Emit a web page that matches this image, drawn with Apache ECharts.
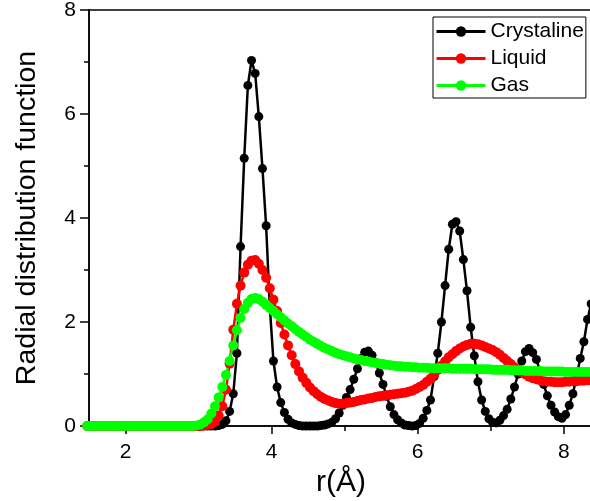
<!DOCTYPE html>
<html><head><meta charset="utf-8">
<script src="https://cdn.jsdelivr.net/npm/echarts@6/dist/echarts.min.js"></script>
<style>html,body{margin:0;padding:0;background:#fff}#c{width:590px;height:501px}</style>
</head><body><div id="c"></div>
<script>
// r in Angstrom
const r = [
1.475,1.525,1.575,1.625,1.675,1.725,1.775,1.825,1.875,1.925,
1.975,2.025,2.075,2.125,2.175,2.225,2.275,2.325,2.375,2.425,
2.475,2.525,2.575,2.625,2.675,2.725,2.775,2.825,2.875,2.925,
2.975,3.025,3.075,3.125,3.175,3.225,3.275,3.325,3.375,3.425,
3.475,3.525,3.575,3.625,3.675,3.725,3.775,3.825,3.875,3.925,
3.975,4.025,4.075,4.125,4.175,4.225,4.275,4.325,4.375,4.425,
4.475,4.525,4.575,4.625,4.675,4.725,4.775,4.825,4.875,4.925,
4.975,5.025,5.075,5.125,5.175,5.225,5.275,5.325,5.375,5.425,
5.475,5.525,5.575,5.625,5.675,5.725,5.775,5.825,5.875,5.925,
5.975,6.025,6.075,6.125,6.175,6.225,6.275,6.325,6.375,6.425,
6.475,6.525,6.575,6.625,6.675,6.725,6.775,6.825,6.875,6.925,
6.975,7.025,7.075,7.125,7.175,7.225,7.275,7.325,7.375,7.425,
7.475,7.525,7.575,7.625,7.675,7.725,7.775,7.825,7.875,7.925,
7.975,8.025,8.075,8.125,8.175,8.225,8.275,8.325,8.375,8.425
];
const crystaline = [
0,0,0,0,0,0,0,0,0,0,
0,0,0,0,0,0,0,0,0,0,
0,0,0,0,0,0,0,0,0,0,
0,0,0,0,0,0,0.01,0.03,0.10,0.28,
0.62,1.40,3.45,5.15,6.55,7.03,6.78,5.95,4.95,3.85,
2.30,1.25,0.75,0.45,0.26,0.13,0.06,0.03,0.01,0,
0,0,0,0,0.01,0.02,0.04,0.07,0.14,0.25,
0.40,0.55,0.70,0.90,1.10,1.30,1.42,1.44,1.36,1.22,
1.02,0.80,0.57,0.37,0.22,0.12,0.06,0.02,0.01,0.00,
0.01,0.05,0.15,0.30,0.50,0.95,1.40,2.00,2.70,3.40,
3.88,3.93,3.75,3.20,2.60,1.90,1.35,0.85,0.50,0.28,
0.14,0.07,0.06,0.11,0.20,0.32,0.52,0.75,1.00,1.25,
1.43,1.49,1.41,1.28,1.05,0.80,0.58,0.40,0.27,0.18,
0.15,0.22,0.40,0.62,0.95,1.30,1.62,2.05,2.35,2.55
];
const liquid = [
0,0,0,0,0,0,0,0,0,0,
0,0,0,0,0,0,0,0,0,0,
0,0,0,0,0,0,0,0,0,0,
0,0,0.01,0.02,0.04,0.08,0.20,0.38,0.70,1.20,
1.85,2.35,2.70,2.95,3.10,3.18,3.19,3.12,3.00,2.85,
2.65,2.43,2.21,1.98,1.76,1.55,1.36,1.19,1.05,0.93,
0.83,0.74,0.67,0.61,0.56,0.52,0.49,0.46,0.44,0.43,
0.43,0.44,0.45,0.46,0.48,0.50,0.51,0.53,0.54,0.56,
0.57,0.58,0.59,0.60,0.61,0.62,0.63,0.64,0.66,0.68,
0.71,0.75,0.79,0.85,0.91,0.99,1.08,1.16,1.24,1.32,
1.38,1.44,1.49,1.53,1.56,1.58,1.58,1.57,1.55,1.52,
1.49,1.46,1.42,1.37,1.31,1.25,1.19,1.13,1.08,1.03,
0.99,0.95,0.92,0.90,0.88,0.86,0.85,0.85,0.84,0.84,
0.84,0.85,0.85,0.86,0.86,0.87,0.87,0.88,0.88,0.88
];
const gas = [
0,0,0,0,0,0,0,0,0,0,
0,0,0,0,0,0,0,0,0,0,
0,0,0,0,0,0,0,0,0,0,
0.01,0.03,0.07,0.13,0.24,0.38,0.55,0.75,0.98,1.25,
1.55,1.84,2.08,2.25,2.37,2.44,2.46,2.44,2.39,2.33,
2.27,2.21,2.15,2.09,2.03,1.97,1.92,1.86,1.81,1.76,
1.71,1.66,1.62,1.58,1.54,1.50,1.47,1.44,1.41,1.38,
1.36,1.34,1.32,1.30,1.28,1.27,1.25,1.24,1.22,1.21,
1.20,1.19,1.18,1.17,1.16,1.15,1.15,1.14,1.14,1.13,
1.13,1.12,1.12,1.12,1.11,1.11,1.11,1.11,1.11,1.11,
1.10,1.10,1.10,1.10,1.10,1.10,1.09,1.09,1.09,1.09,
1.09,1.08,1.08,1.08,1.08,1.08,1.07,1.07,1.07,1.07,
1.06,1.06,1.06,1.06,1.06,1.05,1.05,1.05,1.05,1.05,
1.05,1.04,1.04,1.04,1.04,1.04,1.04,1.04,1.04,1.04
];
const seriesNames = ['Crystaline', 'Liquid', 'Gas'];
const xMajorTicks = [2, 4, 6, 8];
const xMinorTicks = [3, 5, 7];

function pairs(ys) { return r.map(function (x, i) { return [x, ys[i]]; }); }
const FONT = 'Arial, "Liberation Sans", sans-serif';
const chart = echarts.init(document.getElementById('c'), null, { renderer: 'canvas' });
const axisLineStyle = { color: '#000', width: 1.5 };
function lineSeries(name, ys, color, size) {
  return {
    name: name, type: 'line', data: pairs(ys), symbol: 'circle', symbolSize: size,
    showSymbol: true, clip: false, smooth: false,
    lineStyle: { color: color, width: 2.5 }, itemStyle: { color: color },
    emphasis: { disabled: true }
  };
}
chart.setOption({
  animation: false,
  backgroundColor: '#fff',
  grid: { left: 89, top: 10, width: 504, height: 416, outerBoundsMode: 'none', containLabel: false,
          show: true, borderColor: '#000', borderWidth: 1.5, backgroundColor: 'transparent' },
  legend: {
    data: seriesNames, orient: 'vertical', left: 433, top: 17,
    padding: [4, 2, 2, 2], itemGap: 6, itemWidth: 49, itemHeight: 13,
    borderColor: '#000', borderWidth: 1, backgroundColor: '#fff',
    lineStyle: { width: 3 },
    textStyle: { fontSize: 21, color: '#000', fontFamily: FONT, lineHeight: 21 }
  },
  xAxis: [{
    type: 'value', min: 1.5, max: 8.4, position: 'bottom',
    splitLine: { show: false },
    axisLine: { show: true, onZero: false, lineStyle: axisLineStyle },
    axisTick: { show: true, customValues: xMajorTicks, length: 8, lineStyle: axisLineStyle },
    axisLabel: { show: true, customValues: xMajorTicks, fontSize: 21, color: '#000', margin: 16, fontFamily: FONT },
    name: 'r(Å)', nameLocation: 'middle', nameGap: 42,
    nameTextStyle: { fontSize: 30, color: '#000', fontFamily: FONT }
  }, {
    type: 'value', min: 1.5, max: 8.4, position: 'bottom',
    splitLine: { show: false },
    axisLine: { show: false, onZero: false },
    axisTick: { show: true, customValues: xMinorTicks, length: 5, lineStyle: axisLineStyle },
    axisLabel: { show: false }
  }],
  yAxis: {
    type: 'value', min: 0, max: 8, interval: 2,
    splitLine: { show: false },
    axisLine: { show: true, lineStyle: axisLineStyle },
    axisTick: { show: true, length: 9, lineStyle: axisLineStyle },
    minorTick: { show: true, splitNumber: 2, length: 5, lineStyle: axisLineStyle },
    minorSplitLine: { show: false },
    axisLabel: { fontSize: 21, color: '#000', margin: 13, fontFamily: FONT },
    name: 'Radial distribution function', nameLocation: 'middle', nameGap: 47,
    nameTextStyle: { fontSize: 28.5, color: '#000', fontFamily: FONT }
  },
  series: [
    lineSeries(seriesNames[0], crystaline, '#000000', 9),
    lineSeries(seriesNames[1], liquid, '#ff0000', 10),
    lineSeries(seriesNames[2], gas, '#00ff00', 10)
  ]
});
</script>
</body></html>
